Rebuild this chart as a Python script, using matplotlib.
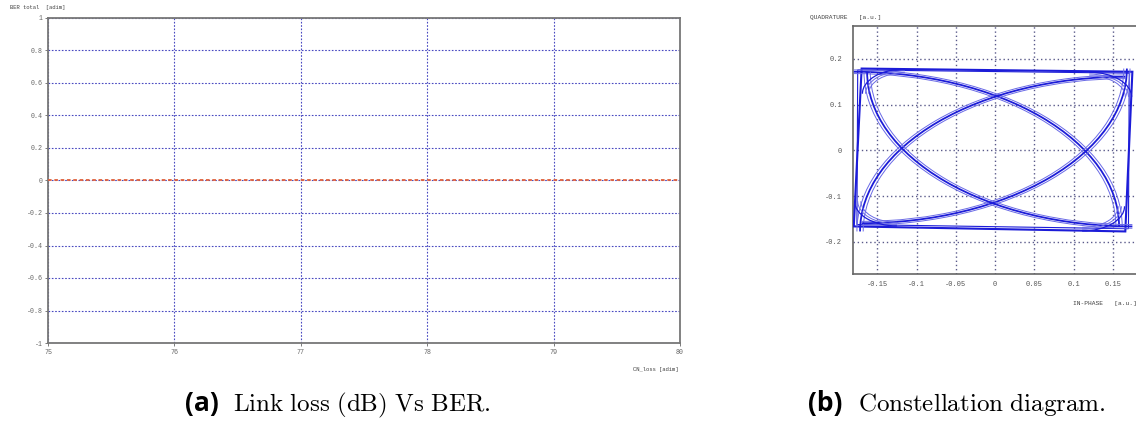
import matplotlib
matplotlib.use("Agg")
import matplotlib.pyplot as plt
from matplotlib.patches import Arc, Polygon

plt.rcParams['mathtext.fontset'] = 'cm'
MONO = 'Liberation Mono'

# --- (a) BER vs link loss ---
cn_loss = [75, 76, 77, 78, 79, 80]
ber_total = [0, 0, 0, 0, 0, 0]
ber_yticks = [-1, -0.8, -0.6, -0.4, -0.2, 0, 0.2, 0.4, 0.6, 0.8, 1]
ber_ylabels = ['-1', '-0.8', '-0.6', '-0.4', '-0.2', '0', '0.2', '0.4', '0.6', '0.8', '1']

# --- (b) constellation trajectory ---
iq_xticks = [-0.15, -0.1, -0.05, 0, 0.05, 0.1, 0.15]
iq_xlabels = ['-0.15', '-0.1', '-0.05', '0', '0.05', '0.1', '0.15']
iq_yticks = [-0.2, -0.1, 0, 0.1, 0.2]
iq_ylabels = ['-0.2', '-0.1', '0', '0.1', '0.2']
# symbol corners: top-left, top-right, bottom-right, bottom-left
corner_i = [-0.170, 0.175, 0.166, -0.180]
corner_q = [0.179, 0.172, -0.177, -0.166]
corner_i2 = [-0.175, 0.171, 0.170, -0.176]
corner_q2 = [0.176, 0.169, -0.171, -0.162]
# big transition arcs: centre corner index, start/end angle, radii of the traces
big_center = [3, 2, 0, 1]
big_theta1 = [0, 90, 270, 180]
big_theta2 = [90, 180, 360, 270]
big_radii = [0.334, 0.338, 0.342]
# rounded transitions at the corners
small_center_i = [-0.115, 0.120, 0.111, -0.125]
small_center_q = [0.124, 0.117, -0.122, -0.111]
small_theta1 = [90, 0, 270, 180]
small_theta2 = [180, 90, 360, 270]
small_radii = [0.046, 0.050, 0.054]

fig = plt.figure(figsize=(11.36, 4.21), dpi=100)

# left panel
ax1 = fig.add_axes([48 / 1136, 78 / 421, 632 / 1136, 325 / 421])
ax1.plot(cn_loss, ber_total, color='#e0603a', lw=1.3, ls=(0, (2, 1.5)), zorder=3)
ax1.set_xlim(75, 80)
ax1.set_ylim(-1, 1)
ax1.set_xticks(cn_loss)
ax1.set_xticklabels([str(v) for v in cn_loss])
ax1.set_yticks(ber_yticks)
ax1.set_yticklabels(ber_ylabels)
ax1.grid(True, color='#4848c0', lw=0.8, ls=(0, (1.5, 1.5)))
ax1.tick_params(labelsize=4.8, length=2, width=0.6, colors='#666666', pad=2)
for lab in ax1.get_xticklabels() + ax1.get_yticklabels():
    lab.set_family(MONO)
for side in ['top', 'right', 'bottom', 'left']:
    ax1.spines[side].set_color('#777777')
    ax1.spines[side].set_linewidth(1.3)
fig.text(10 / 1136, 1 - 8 / 421, 'BER total  [adim]', fontsize=4, family=MONO,
         color='#444444', va='center')
fig.text(633 / 1136, 1 - 369 / 421, 'CN_loss [adim]', fontsize=4, family=MONO,
         color='#444444', va='center')

# right panel
ax2 = fig.add_axes([853 / 1136, 147 / 421, 299 / 1136, 248 / 421])
ax2.set_xlim(-0.181, 0.2)
ax2.set_ylim(-0.27, 0.272)
ax2.set_xticks(iq_xticks)
ax2.set_xticklabels(iq_xlabels)
ax2.set_yticks(iq_yticks)
ax2.set_yticklabels(iq_ylabels)
ax2.grid(True, color='#5a5a8a', lw=1.0, ls=(0, (1, 2)))
ax2.tick_params(labelsize=5, length=0, colors='#555555')
ax2.tick_params(axis='x', pad=5)
ax2.tick_params(axis='y', pad=8)
for lab in ax2.get_xticklabels() + ax2.get_yticklabels():
    lab.set_family(MONO)
for side in ['top', 'right', 'bottom', 'left']:
    ax2.spines[side].set_color('#666666')
    ax2.spines[side].set_linewidth(1.2)

blue = '#1c1cd8'
pale = '#6a6ae6'
ax2.add_patch(Polygon(list(zip(corner_i, corner_q)), closed=True, fill=False,
                      ec=blue, lw=1.5, zorder=4))
ax2.add_patch(Polygon(list(zip(corner_i2, corner_q2)), closed=True, fill=False,
                      ec=blue, lw=0.8, zorder=4))
for c, t1, t2 in zip(big_center, big_theta1, big_theta2):
    for k, r in enumerate(big_radii):
        ax2.add_patch(Arc((corner_i[c], corner_q[c]), 2 * r, 2 * r, theta1=t1, theta2=t2,
                          ec=blue if k == 1 else pale, lw=1.3 if k == 1 else 0.7, zorder=4))
for ci, cq, t1, t2 in zip(small_center_i, small_center_q, small_theta1, small_theta2):
    for k, r in enumerate(small_radii):
        ax2.add_patch(Arc((ci, cq), 2 * r, 2 * r, theta1=t1, theta2=t2,
                          ec=blue if k == 2 else pale, lw=0.9 if k == 2 else 0.7, zorder=4))

fig.text(810 / 1136, 1 - 18 / 421, 'QUADRATURE   [a.u.]', fontsize=4.5, family=MONO,
         color='#444444', va='center')
fig.text(1073 / 1136, 1 - 303 / 421, 'IN-PHASE   [a.u.]', fontsize=4.5, family=MONO,
         color='#444444', va='center')

# captions
fig.text(185 / 1136, 1 - 411 / 421, '(a)', fontsize=19, family='Open Sans',
         weight='bold', va='baseline')
fig.text(233 / 1136, 1 - 411 / 421, r'$\mathrm{Link\ loss\ (dB)\ Vs\ BER.}$',
         fontsize=18, va='baseline')
fig.text(808 / 1136, 1 - 411 / 421, '(b)', fontsize=19, family='Open Sans',
         weight='bold', va='baseline')
fig.text(858 / 1136, 1 - 411 / 421, r'$\mathrm{Constellation\ diagram.}$',
         fontsize=18, va='baseline')

fig.savefig('out.png', dpi=100)
